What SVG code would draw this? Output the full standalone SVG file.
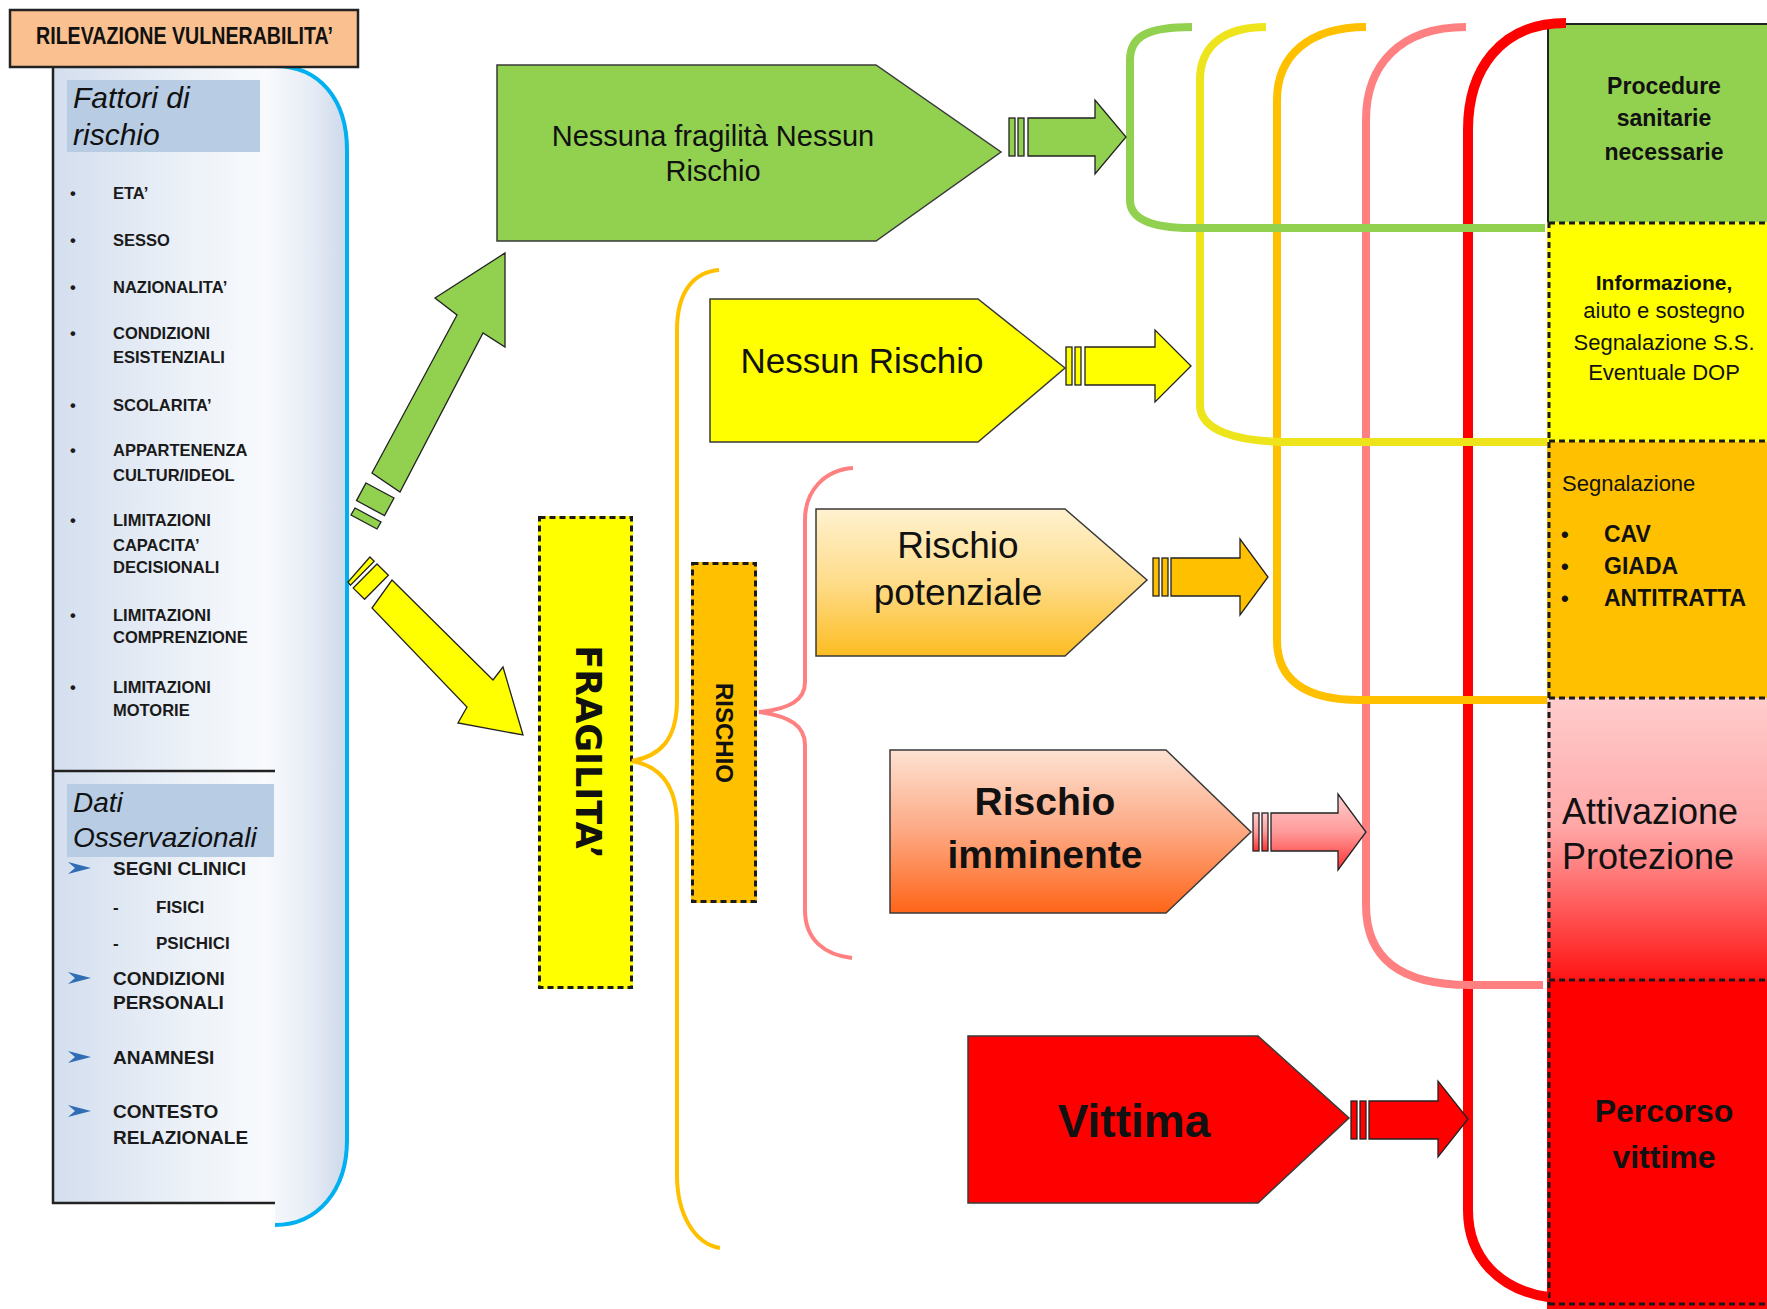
<svg xmlns="http://www.w3.org/2000/svg" width="1767" height="1309" viewBox="0 0 1767 1309">
<defs>
  <linearGradient id="panelGrad" gradientUnits="userSpaceOnUse" x1="53" y1="0" x2="347" y2="0">
    <stop offset="0" stop-color="#D3DEEE"/>
    <stop offset="0.45" stop-color="#ECF1F8"/>
    <stop offset="0.72" stop-color="#F8FAFD"/>
    <stop offset="0.88" stop-color="#E6ECF5"/>
    <stop offset="1" stop-color="#CCD8EA"/>
  </linearGradient>
  <linearGradient id="potGrad" x1="0" y1="0" x2="0" y2="1">
    <stop offset="0" stop-color="#FFF2CF"/>
    <stop offset="0.5" stop-color="#FEDC8A"/>
    <stop offset="1" stop-color="#FDBD22"/>
  </linearGradient>
  <linearGradient id="immGrad" x1="0" y1="0" x2="0" y2="1">
    <stop offset="0" stop-color="#FDE2D3"/>
    <stop offset="0.5" stop-color="#FDA882"/>
    <stop offset="1" stop-color="#FF6518"/>
  </linearGradient>
  <linearGradient id="pinkArrGrad" x1="0" y1="0" x2="0" y2="1">
    <stop offset="0" stop-color="#FFD0D0"/>
    <stop offset="0.5" stop-color="#FF9A9A"/>
    <stop offset="1" stop-color="#FF3030"/>
  </linearGradient>
  <linearGradient id="pinkBoxGrad" x1="0" y1="0" x2="0" y2="1">
    <stop offset="0" stop-color="#FFCCCC"/>
    <stop offset="0.45" stop-color="#FFA8A8"/>
    <stop offset="1" stop-color="#FF1414"/>
  </linearGradient>
</defs>
<style>
  .t { font-family: "Liberation Sans", Arial, sans-serif; fill: #111; }
  .b { font-weight: bold; }
  .it { font-style: italic; }
  .item { font-family: "Liberation Sans", Arial, sans-serif; font-weight: bold; font-size: 16.5px; fill: #1a1a1a; }
  .ditem { font-family: "Liberation Sans", Arial, sans-serif; font-weight: bold; font-size: 19px; fill: #1a1a1a; }
  .mid { text-anchor: middle; }
  .node { stroke: #3a3a3a; stroke-width: 1.5; }
  .edge { fill: none; stroke: #222; stroke-width: 2.5; }
  .dash { fill: none; stroke: #1a1a1a; stroke-width: 3; stroke-dasharray: 6 4; }
  .brk { fill: none; }
  .sa { stroke: #222; stroke-width: 1.3; }
  .arrbul { fill: #2F6DB5; }
</style>

<!-- Left panel -->
<g id="panel-vulnerabilita">
  <path d="M53,67 L275,67 C320,67 347,100 347,150 L347,1140 C347,1190 318,1225 275,1225 L275,1203 L53,1203 Z" fill="url(#panelGrad)"/>
  <path d="M275,66 C320,66 347,100 347,150 L347,1140 C347,1190 318,1225 275,1225" fill="none" stroke="#00B0F0" stroke-width="4"/>
  <line class="edge" x1="53" y1="67" x2="53" y2="1204"/>
  <line class="edge" x1="52" y1="1203" x2="275" y2="1203"/>
  <line class="edge" x1="53" y1="771" x2="275" y2="771"/>

  <rect x="67" y="80" width="193" height="72" fill="#B8CCE4"/>
  <text class="t it" x="73" y="108" font-size="30">Fattori di</text>
  <text class="t it" x="73" y="145" font-size="30">rischio</text>

  <g class="item">
    <text x="70" y="199">•</text><text x="113" y="199">ETA’</text>
    <text x="70" y="246">•</text><text x="113" y="246">SESSO</text>
    <text x="70" y="293">•</text><text x="113" y="293">NAZIONALITA’</text>
    <text x="70" y="339">•</text><text x="113" y="339">CONDIZIONI</text>
    <text x="113" y="363">ESISTENZIALI</text>
    <text x="70" y="411">•</text><text x="113" y="411">SCOLARITA’</text>
    <text x="70" y="456">•</text><text x="113" y="456">APPARTENENZA</text>
    <text x="113" y="481">CULTUR/IDEOL</text>
    <text x="70" y="526">•</text><text x="113" y="526">LIMITAZIONI</text>
    <text x="113" y="551">CAPACITA’</text>
    <text x="113" y="573">DECISIONALI</text>
    <text x="70" y="621">•</text><text x="113" y="621">LIMITAZIONI</text>
    <text x="113" y="643">COMPRENZIONE</text>
    <text x="70" y="693">•</text><text x="113" y="693">LIMITAZIONI</text>
    <text x="113" y="716">MOTORIE</text>
  </g>

  <rect x="67" y="784" width="207" height="73" fill="#B8CCE4"/>
  <text class="t it" x="73" y="812" font-size="28">Dati</text>
  <text class="t it" x="73" y="847" font-size="28">Osservazionali</text>

  <g class="arrbul">
    <path d="M68,862 L91,868 L68,874 L75,868 Z"/>
    <path d="M68,972 L91,978 L68,984 L75,978 Z"/>
    <path d="M68,1051 L91,1057 L68,1063 L75,1057 Z"/>
    <path d="M68,1105 L91,1111 L68,1117 L75,1111 Z"/>
  </g>
  <g class="ditem">
    <text x="113" y="875">SEGNI CLINICI</text>
    <text x="113" y="913" font-size="17">-</text><text x="156" y="913" font-size="17">FISICI</text>
    <text x="113" y="949" font-size="17">-</text><text x="156" y="949" font-size="17">PSICHICI</text>
    <text x="113" y="985">CONDIZIONI</text>
    <text x="113" y="1009">PERSONALI</text>
    <text x="113" y="1064">ANAMNESI</text>
    <text x="113" y="1118">CONTESTO</text>
    <text x="113" y="1144">RELAZIONALE</text>
  </g>
</g>

<g id="node-title">
  <rect x="10" y="10" width="348" height="57" fill="#FAC090" stroke="#222" stroke-width="2.5"/>
  <text class="t b" x="36" y="44" font-size="23" textLength="297" lengthAdjust="spacingAndGlyphs">RILEVAZIONE VULNERABILITA’</text>
</g>

<!-- Central nodes -->
<g id="node-nessuna-fragilita">
  <polygon class="node" points="497,65 876,65 1001,152 876,241 497,241" fill="#92D050"/>
  <text class="t mid" x="713" y="146" font-size="29">Nessuna fragilità Nessun</text>
  <text class="t mid" x="713" y="181" font-size="29">Rischio</text>
</g>

<g id="node-fragilita">
  <rect x="538" y="516" width="95" height="473" fill="#FFFF00"/>
  <rect class="dash" x="539.5" y="517.5" width="92" height="470"/>
  <text transform="translate(576,752) rotate(90)" text-anchor="middle" font-family="'DejaVu Sans', Verdana, sans-serif" font-weight="bold" font-size="35" fill="#111">FRAGILITA’</text>
</g>

<g id="node-rischio">
  <rect x="691" y="562" width="66" height="341" fill="#FFC000"/>
  <rect class="dash" x="692.5" y="563.5" width="63" height="338"/>
  <text transform="translate(716,733) rotate(90)" text-anchor="middle" font-family="'Liberation Sans', Arial, sans-serif" font-weight="bold" font-size="24" fill="#111">RISCHIO</text>
</g>

<g id="node-nessun-rischio">
  <polygon class="node" points="710,299 978,299 1065,368 978,442 710,442" fill="#FFFF00"/>
  <text class="t mid" x="862" y="373" font-size="35">Nessun Rischio</text>
</g>

<g id="node-rischio-potenziale">
  <polygon class="node" points="816,509 1065,509 1147,580 1065,656 816,656" fill="url(#potGrad)" stroke="#7a7a7a"/>
  <text class="t mid" x="958" y="558" font-size="37">Rischio</text>
  <text class="t mid" x="958" y="605" font-size="37">potenziale</text>
</g>

<g id="node-rischio-imminente">
  <polygon class="node" points="890,750 1166,750 1251,832 1166,913 890,913" fill="url(#immGrad)"/>
  <text class="t b mid" x="1045" y="815" font-size="39">Rischio</text>
  <text class="t b mid" x="1045" y="868" font-size="39">imminente</text>
</g>

<g id="node-vittima">
  <polygon class="node" points="968,1036 1258,1036 1349,1118 1258,1203 968,1203" fill="#FF0000" stroke="#222"/>
  <text class="t b mid" x="1134" y="1137" font-size="46">Vittima</text>
</g>

<!-- Right column -->
<g id="node-procedure">
  <rect x="1547" y="24" width="220" height="198" fill="#92D050"/>
  <path d="M1767,24 L1548,24 L1548,222" fill="none" stroke="#222" stroke-width="2"/>
  <text class="t b mid" x="1664" y="94" font-size="23">Procedure</text>
  <text class="t b mid" x="1664" y="126" font-size="23">sanitarie</text>
  <text class="t b mid" x="1664" y="160" font-size="23">necessarie</text>
</g>

<g id="node-informazione">
  <rect x="1547" y="222" width="220" height="220" fill="#FFFF00"/>
  <text class="t b mid" x="1664" y="290" font-size="21">Informazione,</text>
  <text class="t mid" x="1664" y="318" font-size="22">aiuto e sostegno</text>
  <text class="t mid" x="1664" y="350" font-size="22">Segnalazione S.S.</text>
  <text class="t mid" x="1664" y="380" font-size="22">Eventuale DOP</text>
</g>

<g id="node-segnalazione">
  <rect x="1547" y="442" width="220" height="256" fill="#FFC000"/>
  <text class="t" x="1562" y="491" font-size="22">Segnalazione</text>
  <text class="t b" x="1561" y="542" font-size="22">•</text><text class="t b" x="1604" y="542" font-size="23">CAV</text>
  <text class="t b" x="1561" y="574" font-size="22">•</text><text class="t b" x="1604" y="574" font-size="23">GIADA</text>
  <text class="t b" x="1561" y="606" font-size="22">•</text><text class="t b" x="1604" y="606" font-size="23">ANTITRATTA</text>
</g>

<g id="node-protezione">
  <rect x="1547" y="698" width="220" height="282" fill="url(#pinkBoxGrad)"/>
  <text class="t" x="1562" y="824" font-size="36">Attivazione</text>
  <text class="t" x="1562" y="869" font-size="36">Protezione</text>
</g>

<g id="node-percorso">
  <rect x="1547" y="980" width="220" height="329" fill="#FF0000"/>
  <text class="t b mid" x="1664" y="1122" font-size="32">Percorso</text>
  <text class="t b mid" x="1664" y="1168" font-size="32">vittime</text>
</g>

<g id="column-borders">
  <line class="dash" x1="1549" y1="222" x2="1549" y2="1305"/>
  <line class="dash" x1="1549" y1="223" x2="1767" y2="223"/>
  <line class="dash" x1="1549" y1="441" x2="1767" y2="441"/>
  <line class="dash" x1="1549" y1="698" x2="1767" y2="698"/>
  <line class="dash" x1="1549" y1="980" x2="1767" y2="980"/>
  <line class="dash" x1="1549" y1="1304" x2="1767" y2="1304"/>
</g>

<!-- Connectors -->
<g id="connectors">
  <!-- brackets -->
  <path class="brk" d="M1566,23 C1500,23 1468,70 1468,130 L1468,1210 C1468,1258 1500,1290 1548,1297" stroke="#FF0000" stroke-width="10"/>
  <path class="brk" d="M1466,27 C1400,27 1366,65 1366,120 L1366,905 C1366,958 1400,985 1470,985 L1543,985" stroke="#FF8080" stroke-width="8"/>
  <path class="brk" d="M1366,27 C1310,27 1277,55 1277,100 L1277,640 C1277,680 1305,700 1360,700 L1547,700" stroke="#FFC000" stroke-width="8"/>
  <path class="brk" d="M1266,27 C1225,27 1200,45 1200,80 L1200,405 C1200,430 1235,442 1290,442 L1547,442" stroke="#EEE41C" stroke-width="8"/>
  <path class="brk" d="M1192,27 C1150,27 1130,35 1130,60 L1130,200 C1130,222 1160,228 1192,228 L1545,228" stroke="#92D050" stroke-width="8"/>

  <!-- braces -->
  <path class="brk" d="M719,270 C695,272 677,290 677,330 L677,700 C677,740 660,756 632,761 C660,766 677,785 677,825 L677,1175 C677,1215 695,1244 720,1248" stroke="#FFC000" stroke-width="4"/>
  <path class="brk" d="M853,468 C825,470 805,490 805,520 L805,682 C805,700 790,709 759,712 C790,716 805,726 805,745 L805,910 C805,940 825,955 852,958" stroke="#FF8080" stroke-width="4"/>

  <!-- diagonal arrows from panel -->
  <g class="sa">
    <polygon points="372,473 457,315 435,298 505,253 505,347 483,333 400,492" fill="#92D050"/>
    <polygon points="366,483 394,498 384.5,515.6 356.5,500.6" fill="#92D050"/>
    <polygon points="355,508 381,522 377,529 351,515" fill="#92D050"/>

    <polygon points="392,580 493,680 503,667 523,735 458,723 467,707 372,608" fill="#FFFF00"/>
    <polygon points="377,564 388.4,575.2 364.6,599.3 353.2,588.1" fill="#FFFF00"/>
    <polygon points="369.9,557 374.2,561.2 350.4,585.3 348,582" fill="#FFFF00"/>
  </g>

  <!-- small striped arrows -->
  <g class="sa">
    <rect x="1009" y="118" width="6" height="38" fill="#92D050"/>
    <rect x="1018" y="118" width="6" height="38" fill="#92D050"/>
    <polygon points="1028,118 1095,118 1095,100 1126,137 1095,174 1095,156 1028,156" fill="#92D050"/>

    <rect x="1066" y="347" width="6" height="38" fill="#FFFF00"/>
    <rect x="1075" y="347" width="6" height="38" fill="#FFFF00"/>
    <polygon points="1085,347 1155,347 1155,330 1191,366 1155,402 1155,385 1085,385" fill="#FFFF00"/>

    <rect x="1153" y="558" width="6" height="38" fill="#FFC000"/>
    <rect x="1162" y="558" width="6" height="38" fill="#FFC000"/>
    <polygon points="1171,558 1240,558 1240,539 1268,577 1240,615 1240,596 1171,596" fill="#FFC000"/>

    <rect x="1253" y="813" width="6" height="38" fill="url(#pinkArrGrad)"/>
    <rect x="1262" y="813" width="6" height="38" fill="url(#pinkArrGrad)"/>
    <polygon points="1271,813 1338,813 1338,794 1366,832 1338,870 1338,851 1271,851" fill="url(#pinkArrGrad)"/>

    <rect x="1351" y="1101" width="6" height="38" fill="#FF0000"/>
    <rect x="1360" y="1101" width="6" height="38" fill="#FF0000"/>
    <polygon points="1369,1101 1438,1101 1438,1081 1468,1119 1438,1157 1438,1139 1369,1139" fill="#FF0000"/>
  </g>
</g>
</svg>
